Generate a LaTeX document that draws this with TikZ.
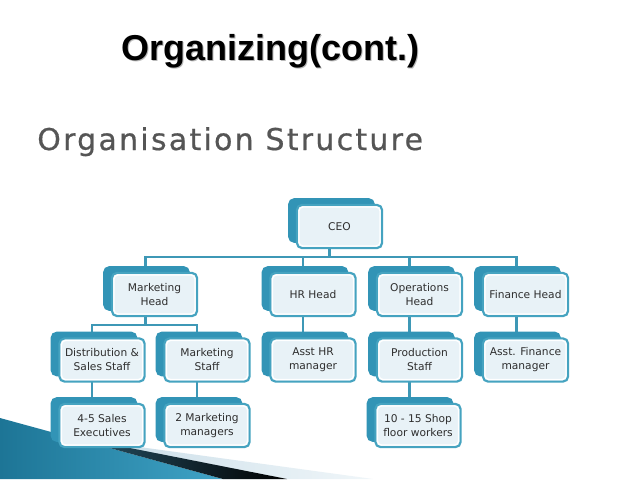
\documentclass[tikz,border=0pt]{standalone}
\usepackage{fontspec}
\newfontfamily\boxfont{DejaVu Sans}
\newfontfamily\titlefont{Liberation Sans}
\newfontfamily\subfont[LetterSpace=7.5,FakeBold=0.6]{DejaVu Sans}
\usetikzlibrary{calc,shadows,backgrounds}
\definecolor{teal1}{HTML}{45A3C0}
\definecolor{shadteal}{HTML}{3294B6}
\definecolor{conncol}{HTML}{3E98B6}
\definecolor{boxfill}{HTML}{E8F2F7}
\definecolor{txt}{HTML}{2E2E2E}
\definecolor{subgrey}{HTML}{555555}
\definecolor{wblueA}{HTML}{1D7596}
\definecolor{wblueB}{HTML}{3FA3C6}
\definecolor{wblack}{HTML}{2A5A70}
\definecolor{wlightA}{HTML}{C9DDE8}
\definecolor{wlightB}{HTML}{F0F6F9}
\tikzset{
 orgbox/.style={draw=teal1, line width=1.6pt, rounded corners=4pt, fill=boxfill,
   minimum width=64pt, minimum height=32.5pt, inner sep=0pt, align=center,
   font=\boxfont\fontsize{8}{10.5}\selectfont, text=txt,
   general shadow={shadow xshift=-6pt, shadow yshift=4.5pt, fill=shadteal, draw=shadteal, line width=1pt},
   path picture={\draw[white, line width=1pt, rounded corners=3pt]
     ([shift={(1.6pt,1.6pt)}]path picture bounding box.south west) rectangle
     ([shift={(-1.6pt,-1.6pt)}]path picture bounding box.north east);}},
 conn/.style={draw=conncol, line width=1.6pt},
}
\begin{document}
\begin{tikzpicture}[x=0.75pt,y=-0.75pt]
\useasboundingbox (0,0) rectangle (638,479);

% titles
\node[font=\titlefont\bfseries\fontsize{27}{30}\selectfont, text=black!28, anchor=base] (t1s) at (271,61.5) {Organizing(cont.)};
\node[font=\titlefont\bfseries\fontsize{27}{30}\selectfont, text=black, anchor=base] (t1) at (270,60) {Organizing(cont.)};
\node[font=\subfont\fontsize{22.5}{26}\selectfont, text=subgrey, anchor=base west, inner sep=0pt] (t2) at (37,150) {Organisation Structure};

% boxes
\node[orgbox] (ceo) at (339.5,226.5) {CEO};
\node[orgbox] (mh) at (154.5,294.5) {Marketing\\Head};
\node[orgbox] (hr) at (313,294.5) {HR Head};
\node[orgbox] (oh) at (419.5,294.5) {Operations\\Head};
\node[orgbox] (fh) at (525.5,294.5) {Finance Head};
\node[orgbox] (ds) at (102,360) {Distribution \&\\Sales Staff};
\node[orgbox] (ms) at (207,360) {Marketing\\Staff};
\node[orgbox] (ahr) at (313,360) {Asst HR\\manager};
\node[orgbox] (ps) at (419.5,360) {Production\\Staff};
\node[orgbox] (af) at (525.5,360) {Asst. Finance\\manager};
\node[orgbox] (se) at (102,425.5) {4-5 Sales\\Executives};
\node[orgbox] (mm) at (207,425.5) {2 Marketing\\managers};
\node[orgbox] (sw) at (418,425.5) {10 - 15 Shop\\floor workers};

\begin{scope}[on background layer]
 \fill[white] (0,0) rectangle (638,479);
 % decoration bottom left
 \shade[left color=wblueA, right color=wblueB] (0,418) -- (223,479) -- (0,479) -- cycle;
 \shade[left color=wlightA, right color=wlightB] (92,440.5) -- (373,479) -- (287,479) -- (223,479) -- cycle;
 \shade[left color=wblack, right color=black] (57,433.6) -- (287,479) -- (223,479) -- cycle;
 % connectors
 \draw[conn] ($(ceo.center)+(-10,0)$) -- ++(0,30.5);
 \draw[conn] ($(mh.center)+(-9,0)$) |- ($(fh.center)+(-9,-37.5)$) -- ($(fh.center)+(-9,0)$);
 \draw[conn] ($(hr.center)+(-10,0)$) -- ++(0,-37.5);
 \draw[conn] ($(oh.center)+(-10,0)$) -- ++(0,-37.5);
 \draw[conn] ($(mh.center)+(-9,0)$) -- ++(0,30.5);
 \draw[conn] ($(ds.center)+(-10,0)$) |- ($(ms.center)+(-10,-35)$) -- ($(ms.center)+(-10,0)$);
 \draw[conn] ($(ds.center)+(-10,0)$) -- ($(se.center)+(-10,0)$);
 \draw[conn] ($(ms.center)+(-10,0)$) -- ($(mm.center)+(-10,0)$);
 \draw[conn] ($(hr.center)+(-10,0)$) -- ($(ahr.center)+(-10,0)$);
 \draw[conn] ($(oh.center)+(-10,0)$) -- ($(ps.center)+(-10,0)$);
 \draw[conn] ($(fh.center)+(-9,0)$) -- ($(af.center)+(-9,0)$);
 \draw[conn] ($(ps.center)+(-10,0)$) -- ($(sw.center)+(-8.5,0)$);
\end{scope}
\end{tikzpicture}
\end{document}
